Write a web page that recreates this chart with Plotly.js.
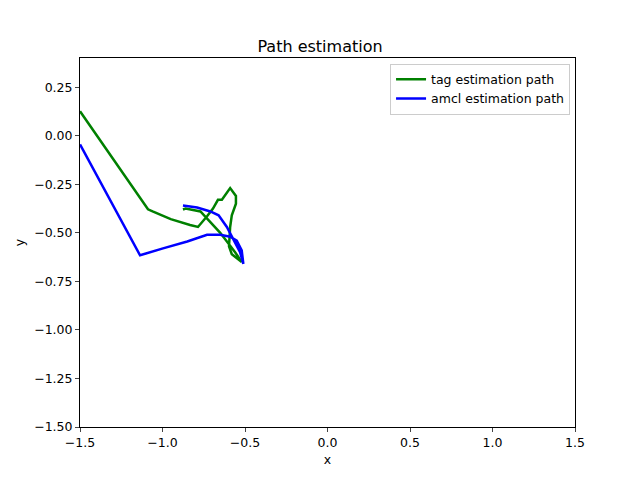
<!DOCTYPE html>
<html><head><script src="https://cdn.plot.ly/plotly-3.0.1.min.js"></script></head>
<body style="margin:0">
<div id="plot" style="width:640px;height:480px"></div>
<script>
const tagX = [-1.5, -1.088, -1.06, -0.95, -0.833, -0.785, -0.73, -0.694, -0.664, -0.64, -0.59, -0.555, -0.555, -0.58, -0.59, -0.597, -0.58, -0.52, -0.56, -0.65, -0.77, -0.86, -0.876];
const tagY = [0.126, -0.379, -0.39, -0.43, -0.46, -0.47, -0.415, -0.375, -0.33, -0.33, -0.27, -0.31, -0.35, -0.41, -0.47, -0.57, -0.61, -0.65, -0.6, -0.5, -0.39, -0.375, -0.38];
const amclX = [-1.5, -1.136, -0.997, -0.85, -0.73, -0.65, -0.59, -0.55, -0.52, -0.51, -0.53, -0.61, -0.66, -0.71, -0.79, -0.876];
const amclY = [-0.045, -0.616, -0.58, -0.545, -0.51, -0.51, -0.52, -0.54, -0.59, -0.66, -0.6, -0.47, -0.41, -0.39, -0.37, -0.36];

const font = {family: "DejaVu Sans", size: 12.5, color: "#000"};
const traces = [
  {x: tagX, y: tagY, mode: "lines", name: "tag estimation path", line: {color: "green", width: 2.5}},
  {x: amclX, y: amclY, mode: "lines", name: "amcl estimation path", line: {color: "blue", width: 2.5}}
];
const axis = {showgrid: false, zeroline: false, showline: true, mirror: true, linecolor: "#000", linewidth: 1, ticks: "outside", ticklen: 4, tickfont: font};
const layout = {
  width: 640, height: 480,
  margin: {l: 80, r: 65, t: 58, b: 53},
  paper_bgcolor: "#fff", plot_bgcolor: "#fff",
  font: font,
  title: {text: "Path estimation", font: {family: "DejaVu Sans", size: 16}, x: 0.5, y: 0.915},
  xaxis: Object.assign({}, axis, {range: [-1.5, 1.5], dtick: 0.5, tickformat: ".1f", title: {text: "x", font: font, standoff: 6}}),
  yaxis: Object.assign({}, axis, {range: [-1.5, 0.4], dtick: 0.25, tickformat: ".2f", title: {text: "y", font: font, standoff: 6}}),
  showlegend: true,
  legend: {x: 0.99, y: 0.985, xanchor: "right", yanchor: "top", bordercolor: "#ccc", borderwidth: 1, bgcolor: "rgba(255,255,255,0.8)", tracegroupgap: 0, font: {family: "DejaVu Sans", size: 12.5}}
};
Plotly.newPlot("plot", traces, layout, {displayModeBar: false});
</script>
</body></html>
